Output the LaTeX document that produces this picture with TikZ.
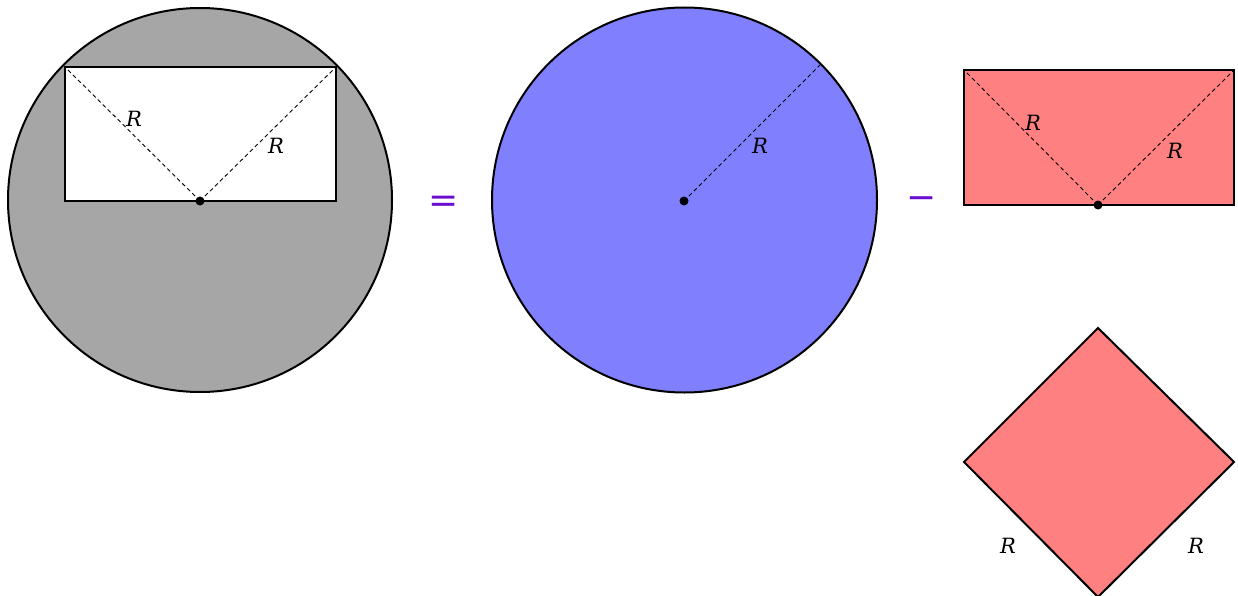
\documentclass[tikz,border=0pt]{standalone}
\usepackage{fontspec}
\setmainfont{DejaVu Serif}
\newfontfamily\opfont{DejaVu Sans}
\definecolor{opgray}{HTML}{A6A6A6}
\definecolor{opblue}{HTML}{8080FF}
\definecolor{opred}{HTML}{FF8080}
\definecolor{oppurple}{HTML}{6A0DD0}
\begin{document}
\begin{tikzpicture}[x=1pt,y=-1pt,
  outl/.style={draw=black,line width=2pt,line join=miter},
  radiusline/.style={draw=black,line width=0.9pt,dash pattern=on 4pt off 3pt},
  lab/.style={font=\fontsize{21}{24}\selectfont\itshape,inner sep=0pt},
  opsign/.style={font=\opfont\fontsize{36}{40}\selectfont,text=oppurple,inner sep=0pt},
  dotnode/.style={circle,fill=black,inner sep=0pt,minimum size=9pt}]
\useasboundingbox (0,0) rectangle (1238,596);
% left: circle minus rectangle
\coordinate (c1) at (200,200);
\fill[opgray] (c1) circle[radius=192];
\draw[outl] (c1) circle[radius=192];
\coordinate (r1a) at (65,67);
\coordinate (r1b) at (336,201);
\draw[outl,fill=white] (r1a) rectangle (r1b);
\node[dotnode] (d1) at (200,201) {};
\draw[radiusline] (d1.center) -- (r1a);
\draw[radiusline] (d1.center) -- (336,67);
\node[lab] (l1) at (134,119) {R};
\node[lab] (l2) at (276,146) {R};
% equals
\node[opsign] (eq) at (444,204) {=};
% middle circle
\coordinate (c2) at (684.5,200);
\draw[outl,fill=opblue] (c2) circle[radius=192.5];
\node[dotnode] (d2) at (684,201) {};
\coordinate (c2e) at (820,65);
\draw[radiusline] (d2.center) -- (c2e);
\node[lab] (l3) at (760,146) {R};
% minus
\node[opsign] (mi) at (922,203) {−};
% red rectangle
\coordinate (r2a) at (964,70);
\coordinate (r2b) at (1234,205);
\draw[outl,fill=opred] (r2a) rectangle (r2b);
\node[dotnode] (d3) at (1098,205) {};
\draw[radiusline] (d3.center) -- (r2a);
\draw[radiusline] (d3.center) -- (1234,70);
\node[lab] (l4) at (1033,123) {R};
\node[lab] (l5) at (1175,151) {R};
% diamond
\coordinate (dl) at (964,462);
\coordinate (dt) at (1098,328);
\coordinate (dr) at (1234,462);
\coordinate (db) at (1098,597);
\draw[outl,fill=opred] (dl) -- (dt) -- (dr) -- (db) -- cycle;
\node[lab] (l6) at (1008,546) {R};
\node[lab] (l7) at (1196,546) {R};
\end{tikzpicture}
\end{document}
